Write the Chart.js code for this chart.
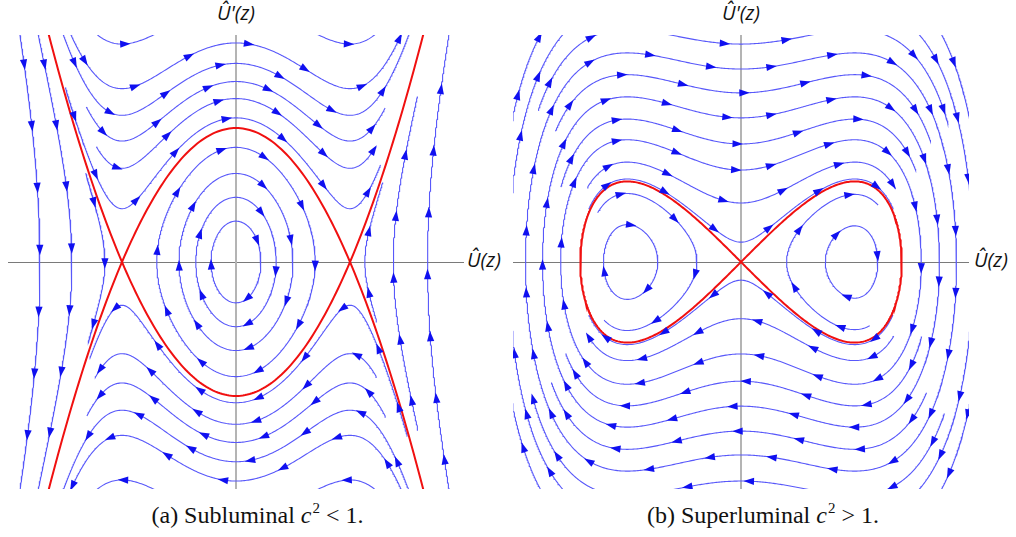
<!DOCTYPE html>
<html>
<head>
<meta charset="utf-8">
<script src="https://cdn.jsdelivr.net/npm/chart.js@4.4.0/dist/chart.umd.min.js"></script>
<style>
  body { margin: 0; background: #fff; width: 1016px; height: 537px; position: relative; overflow: hidden; }
  .plot { position: absolute; top: 35px; width: 456px; height: 454px; }
  .lab { position: absolute; font-family: "Open Sans", sans-serif; font-style: italic; font-size: 20px; color: #111; white-space: nowrap; line-height: 1; }
  .top { width: 100px; text-align: center; top: 3px; }
  .cap { position: absolute; top: 503px; font-family: "Liberation Serif", "DejaVu Serif", serif; font-size: 24px; line-height: 1; color: #111; text-align: center; white-space: nowrap; }
  .cap sup { font-size: 15px; vertical-align: 10px; line-height: 0; margin-left: 1px; }
  .cap .rel { margin: 0 6px; }
</style>
</head>
<body>
<div class="plot" style="left:8px"><canvas id="sub" width="456" height="454"></canvas></div>
<div class="plot" style="left:513px"><canvas id="sup" width="456" height="454"></canvas></div>

<div class="lab top" style="left:186px">Û'(z)</div>
<div class="lab" style="left:467px;top:250px">Û(z)</div>
<div class="lab top" style="left:691px">Û'(z)</div>
<div class="lab" style="left:974px;top:250px">Û(z)</div>

<div class="cap" style="left:10px;width:495px">(a) Subluminal <i>c</i><sup>2</sup><span class="rel">&lt;</span>1.</div>
<div class="cap" style="left:513px;width:500px">(b) Superluminal <i>c</i><sup>2</sup><span class="rel">&gt;</span>1.</div>

<script>
// (a) subluminal: centre at the origin, saddles at U = ±1
var subSaddle = 1.0;   // U where the red separatrices cross the axis
var subApex = 1.18;    // height of the red curves at U = 0
// seed [U, p], then optionally where the line starts [U, p] and where it stops [U, p]
var subLines = [
  [0, 0.36], [0, 0.57], [0, 0.78], [0, 1.01],
  [0, 1.27, -1.48, 1.53, 1.25, 0.85],
  [0, 1.44, -1.22, 1.01, 1.21, 1.01],
  [0, 1.59, -1.31, 1.35, 1.30, 1.35],
  [0, 1.75], [0, 1.93], [-1, 1.92],
  [0, -1.24, 1.48, -1.53, -1.25, -0.85],
  [0, -1.43, 1.22, -1.01, -1.21, -1.01],
  [0, -1.59, 1.31, -1.35, -1.30, -1.35],
  [0, -1.76], [0, -1.93], [1, -1.92],
  [-1.72, 0], [-1.44, 0], [-1.15, 0, -1.31, 0.77, -1.28, -0.69],
  [1.13, 0, 1.20, -0.53, 1.28, 0.69], [1.38, 0, 1.45, -1.5, 1.55, 1.45], [1.68, 0]
];

// (b) superluminal: saddle at the origin, two centres
var supLobeWidth = 1.41;   // red figure eight reaches U = ±1.41
var supLobeHeight = 0.71;  // and p = ±0.71
var supLines = [
  [0, 0.81], [0, 1.27], [0, 1.70],
  [0, 0.175, -1.33, 0.48, 1.33, 0.48],
  [0, 0.52, -1.33, 0.66, 1.35, 0.66],
  [0, 1.04, -1.57, 0.67, 1.51, 0.81],
  [0, 1.49, -1.59, 1.15, 1.64, 1.07],
  [0, 1.92, -1.75, 1.34, 1.81, 1.22],
  [0, -0.16, 1.33, -0.48, -1.33, -0.48],
  [0, -0.50, 1.33, -0.66, -1.35, -0.66],
  [0, -1.05, 1.57, -0.67, -1.51, -0.81],
  [0, -1.49, 1.59, -1.15, -1.64, -1.07],
  [0, -1.93, 1.75, -1.34, -1.81, -1.22],
  [0, 2.14], [0, 2.40], [0, 2.76],
  [-0.73, 0], [0.74, 0],
  [-0.386, 0, -1.24, 0.44, -1.195, -0.53],
  [0.40, 0, 1.13, -0.58, 1.19, 0.50]
];

var BLUE = 'rgb(88, 88, 250)';
var ARROW = 'rgb(16, 16, 240)';
var RED = 'rgb(240, 16, 16)';

// flow fields, scaled so the red separatrices land where they are in the picture
var subA = subSaddle * subSaddle / (2 * subApex * subApex);
function subField(u, p) {
  return [subA * p, u * u * u / (subSaddle * subSaddle) - u];
}
var supC = supLobeWidth / Math.SQRT2;
var supB = supLobeWidth * supLobeWidth / (4 * supLobeHeight * supLobeHeight);
function supField(u, p) {
  return [supB * p, u - u * u * u / (supC * supC)];
}

// follow a streamline from its seed, forwards and backwards
function run(field, seed, dir, target) {
  var ds = 0.012;
  var u = seed[0], p = seed[1];
  var pts = [{x: u, y: p}];
  var travelled = 0, best = Infinity;
  function f(a, b) {
    var v = field(a, b);
    var n = Math.hypot(v[0], v[1]) || 1;
    return [dir * v[0] / n, dir * v[1] / n];
  }
  for (var i = 0; i < 5000; i++) {
    var k1 = f(u, p);
    var k2 = f(u + ds / 2 * k1[0], p + ds / 2 * k1[1]);
    var k3 = f(u + ds / 2 * k2[0], p + ds / 2 * k2[1]);
    var k4 = f(u + ds * k3[0], p + ds * k3[1]);
    u += ds / 6 * (k1[0] + 2 * k2[0] + 2 * k3[0] + k4[0]);
    p += ds / 6 * (k1[1] + 2 * k2[1] + 2 * k3[1] + k4[1]);
    travelled += ds;
    pts.push({x: u, y: p});
    if (Math.abs(u) > 2.8 || Math.abs(p) > 2.8) break;
    if (target) {
      var d = Math.hypot(u - target[0], p - target[1]);
      if (d < 0.15 && d > best) break;
      best = Math.min(best, d);
    } else if (travelled > 0.3 && Math.hypot(u - seed[0], p - seed[1]) < ds) {
      pts.push({x: seed[0], y: seed[1]});
      return {pts: pts, closed: true};
    }
  }
  return {pts: pts, closed: false};
}

function trace(field, row) {
  var seed = [row[0], row[1]];
  var from = row.length > 2 ? [row[2], row[3]] : null;
  var to = row.length > 4 ? [row[4], row[5]] : null;
  var fwd = run(field, seed, 1, to);
  if (fwd.closed) return fwd.pts;
  var bwd = run(field, seed, -1, from);
  return bwd.pts.reverse().concat(fwd.pts.slice(1));
}

// red separatrices
function subRed(sign) {
  var pts = [];
  for (var u = -2.6; u <= 2.6001; u += 0.02) {
    pts.push({x: u, y: sign * subApex * (1 - u * u / (subSaddle * subSaddle))});
  }
  return pts;
}
function supRed() {
  var pts = [];
  for (var t = 0; t <= 2 * Math.PI + 0.0001; t += 0.01) {
    pts.push({x: supLobeWidth * Math.sin(t), y: supLobeHeight * Math.sin(2 * t)});
  }
  return pts;
}

function drawArrow(ctx, x, y, ang) {
  ctx.save();
  ctx.translate(x, y);
  ctx.rotate(ang);
  ctx.beginPath();
  ctx.moveTo(6, 0);
  ctx.lineTo(-4.5, -3.6);
  ctx.lineTo(-4.5, 3.6);
  ctx.closePath();
  ctx.fill();
  ctx.restore();
}

var arrowPlugin = {
  id: 'streamArrows',
  afterDatasetsDraw: function (chart) {
    var ctx = chart.ctx, a = chart.chartArea;
    ctx.save();
    ctx.beginPath();
    ctx.rect(a.left, a.top, a.right - a.left, a.bottom - a.top);
    ctx.clip();
    ctx.fillStyle = ARROW;
    chart.data.datasets.forEach(function (ds, i) {
      if (!ds.arrows) return;
      var pts = chart.getDatasetMeta(i).data;
      var acc = 0, next = 30;
      for (var k = 1; k < pts.length; k++) {
        var x0 = pts[k - 1].x, y0 = pts[k - 1].y, x1 = pts[k].x, y1 = pts[k].y;
        var inside = x1 > a.left && x1 < a.right && y1 > a.top && y1 < a.bottom;
        if (!inside) continue;
        var seg = Math.hypot(x1 - x0, y1 - y0);
        while (seg > 0 && acc + seg >= next) {
          var t = (next - acc) / seg;
          drawArrow(ctx, x0 + t * (x1 - x0), y0 + t * (y1 - y0), Math.atan2(y1 - y0, x1 - x0));
          next += 62;
        }
        acc += seg;
      }
    });
    ctx.restore();
  }
};

function makeChart(id, lines, field, reds) {
  var datasets = lines.map(function (row) {
    return {data: trace(field, row), borderColor: BLUE, borderWidth: 1.1,
            pointRadius: 0, showLine: true, arrows: true, order: 1};
  });
  reds.forEach(function (pts) {
    datasets.push({data: pts, borderColor: RED, borderWidth: 2, pointRadius: 0, showLine: true, order: 0});
  });
  var axisOpts = function (pos, color, width) {
    return {
      type: 'linear', min: -2, max: 2, position: pos,
      grid: {display: false, drawTicks: false},
      ticks: {display: false},
      border: {display: true, color: color, width: width}
    };
  };
  return new Chart(document.getElementById(id), {
    type: 'scatter',
    data: {datasets: datasets},
    options: {
      responsive: false,
      animation: false,
      events: [],
      layout: {padding: 0},
      plugins: {legend: {display: false}, tooltip: {enabled: false}},
      scales: {
        x: axisOpts({y: 0}, '#7a7a7a', 1),
        y: axisOpts({x: 0}, '#b4b4b4', 2)
      }
    },
    plugins: [arrowPlugin]
  });
}

makeChart('sub', subLines, subField, [subRed(1), subRed(-1)]);
makeChart('sup', supLines, supField, [supRed()]);
</script>
</body>
</html>
